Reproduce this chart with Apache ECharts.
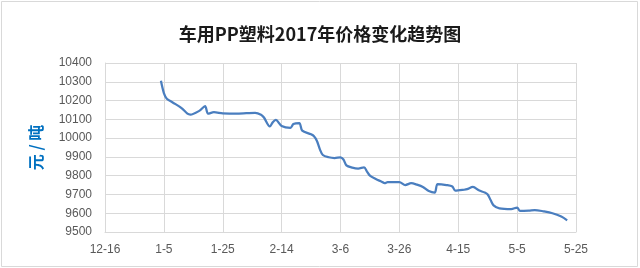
<!DOCTYPE html>
<html>
<head>
<meta charset="utf-8">
<script src="https://cdn.jsdelivr.net/npm/echarts@6/dist/echarts.min.js"></script>
<style>
html,body{margin:0;padding:0;background:#fff;}
#chart{width:640px;height:268px;}
</style>
</head>
<body>
<div id="chart"></div>
<script>
// days counted from 2016-12-16 (day 0)
const dayOffsets = [19,20,21,23,26,28,29,32,34,35,37,40,45,51,53,54,56,57,58,60,63,64,66,67,70,71,72,73,74,76,78,80,81,82,84,86,88,89,90,92,94,95,96,100,102,104,106,108,110,112,113,116,118,119,122,123,125,127,129,130,131,132,134,138,140,141,144,146,149,152,155,157];
const prices = [10305,10240,10210,10190,10160,10130,10125,10145,10170,10130,10138,10132,10130,10135,10125,10110,10062,10085,10097,10065,10055,10075,10080,10040,10020,10010,9985,9940,9910,9898,9894,9897,9886,9855,9843,9838,9844,9822,9800,9782,9768,9760,9765,9765,9750,9760,9752,9740,9718,9710,9755,9750,9742,9720,9725,9728,9740,9722,9710,9700,9670,9642,9626,9622,9630,9612,9614,9617,9610,9600,9582,9562];
const xTickLabels = ['12-16','1-5','1-25','2-14','3-6','3-26','4-15','5-5','5-25'];
const titleText = '车用PP塑料2017年价格变化趋势图';
const yName = '元 / 吨';

const seriesData = dayOffsets.map((d, i) => [d, prices[i]]);
const chart = echarts.init(document.getElementById('chart'), null, {renderer: 'canvas'});
const grid = '#d9d9d9';
chart.setOption({
  animation: false,
  backgroundColor: '#ffffff',
  title: {
    text: titleText,
    left: 'center',
    top: 20,
    textStyle: {fontFamily: 'Noto Sans CJK SC', fontSize: 18, fontWeight: 'bold', color: '#1a1a1a'}
  },
  graphic: [{
    type: 'rect', silent: true,
    shape: {x: 1.5, y: 1.5, width: 636, height: 265},
    style: {fill: 'none', stroke: grid, lineWidth: 1}
  }],
  grid: {left: 105, right: 64, top: 63, bottom: 36, containLabel: false},
  xAxis: {
    type: 'value', min: 0, max: 160, interval: 20,
    axisLine: {show: true, lineStyle: {color: grid}},
    axisTick: {show: false},
    splitLine: {show: true, lineStyle: {color: grid}},
    axisLabel: {
      margin: 12, color: '#595959', fontFamily: 'Liberation Sans', fontSize: 12,
      formatter: v => xTickLabels[Math.round(v / 20)]
    }
  },
  yAxis: {
    type: 'value', min: 9500, max: 10400, interval: 100,
    name: yName, nameLocation: 'middle', nameRotate: 90, nameGap: 61,
    nameTextStyle: {fontFamily: 'Noto Sans CJK SC', fontSize: 16, fontWeight: 'bold', color: '#0070c0'},
    axisLine: {show: true, lineStyle: {color: grid}},
    axisTick: {show: false},
    splitLine: {show: true, lineStyle: {color: grid}},
    axisLabel: {margin: 13, color: '#595959', fontFamily: 'Liberation Sans', fontSize: 12,
      formatter: v => String(v)}
  },
  series: [{
    type: 'line', data: seriesData, smooth: 0.3, showSymbol: false,
    lineStyle: {color: '#4a7ebf', width: 2.25}
  }]
});
</script>
</body>
</html>
